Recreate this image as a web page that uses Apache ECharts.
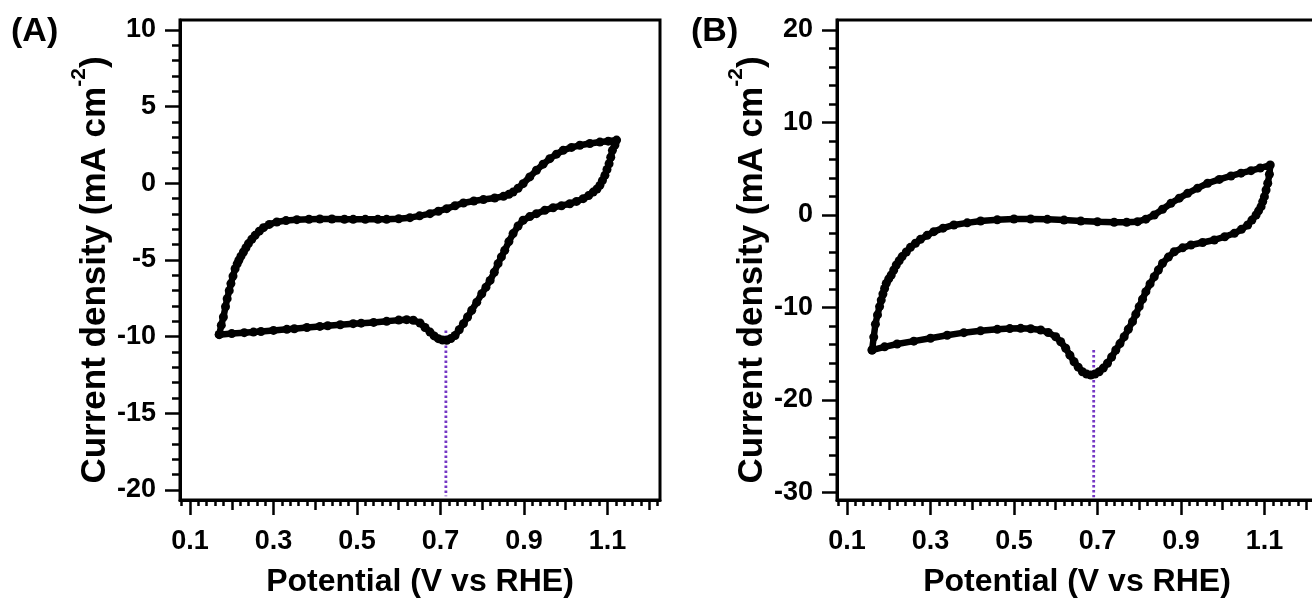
<!DOCTYPE html>
<html>
<head>
<meta charset="utf-8">
<script src="https://cdn.jsdelivr.net/npm/echarts@6/dist/echarts.min.js"></script>
<style>
html,body{margin:0;padding:0;background:#fff;}
#chart{width:1312px;height:599px;}
</style>
</head>
<body>
<div id="chart"></div>
<script>
// ---------- data ----------
// Panel A: cyclic voltammogram, [potential V vs RHE, current density mA cm^-2]
const cvA = [
[0.170,-9.85],[0.175,-9.25],[0.180,-8.72],[0.185,-8.05],[0.189,-7.52],[0.194,-7.0],[0.198,-6.54],
[0.203,-6.05],[0.208,-5.57],[0.213,-5.25],[0.217,-5.02],[0.222,-4.75],[0.228,-4.48],[0.234,-4.2],
[0.240,-3.93],[0.248,-3.65],[0.256,-3.39],[0.266,-3.12],[0.276,-2.89],[0.290,-2.68],[0.308,-2.52],
[0.330,-2.43],[0.356,-2.37],[0.385,-2.34],[0.411,-2.33],[0.440,-2.33],[0.470,-2.34],[0.491,-2.35],
[0.520,-2.35],[0.550,-2.35],[0.571,-2.35],[0.600,-2.31],[0.627,-2.24],[0.650,-2.12],[0.675,-1.98],
[0.695,-1.82],[0.715,-1.65],[0.735,-1.46],[0.755,-1.28],[0.780,-1.15],[0.803,-1.06],[0.830,-0.96],
[0.851,-0.85],[0.864,-0.72],[0.874,-0.57],[0.886,-0.32],[0.898,-0.02],[0.914,0.42],[0.930,0.85],
[0.946,1.25],[0.962,1.61],[0.978,1.9],[0.994,2.15],[1.014,2.34],[1.034,2.48],[1.058,2.6],
[1.082,2.69],[1.102,2.75],[1.122,2.82],
[1.118,2.5],[1.112,2.15],[1.108,1.7],[1.104,1.28],[1.099,0.9],[1.094,0.52],[1.088,0.18],
[1.082,-0.13],[1.075,-0.37],[1.066,-0.57],[1.055,-0.8],[1.042,-1.0],[1.026,-1.18],[1.010,-1.33],
[0.990,-1.46],[0.970,-1.59],[0.950,-1.76],[0.930,-1.98],[0.914,-2.17],[0.898,-2.41],[0.886,-2.78],
[0.874,-3.28],[0.864,-3.8],[0.854,-4.37],[0.846,-4.8],[0.838,-5.24],[0.829,-5.8],[0.819,-6.33],
[0.809,-6.77],[0.799,-7.2],[0.787,-7.75],[0.775,-8.28],[0.765,-8.72],[0.755,-9.15],[0.745,-9.55],
[0.735,-9.92],[0.725,-10.12],[0.715,-10.24],[0.705,-10.22],[0.695,-10.13],[0.685,-9.95],[0.675,-9.7],
[0.663,-9.4],[0.651,-9.11],[0.635,-8.93],[0.619,-8.89],[0.600,-8.92],[0.571,-9.0],[0.540,-9.07],
[0.510,-9.12],[0.491,-9.15],[0.460,-9.22],[0.430,-9.29],[0.411,-9.33],[0.380,-9.4],[0.350,-9.48],
[0.332,-9.52],[0.300,-9.59],[0.270,-9.66],[0.252,-9.7],[0.230,-9.74],[0.200,-9.8],[0.170,-9.87]
];
// Panel B
const cvB = [
[0.160,-14.6],[0.164,-13.2],[0.168,-11.8],[0.173,-10.8],[0.178,-9.9],[0.182,-9.2],[0.186,-8.54],
[0.190,-7.95],[0.194,-7.39],[0.200,-6.9],[0.206,-6.49],[0.212,-5.95],[0.218,-5.41],[0.225,-4.95],
[0.232,-4.5],[0.242,-4.0],[0.252,-3.5],[0.264,-3.05],[0.276,-2.63],[0.292,-2.2],[0.308,-1.8],
[0.330,-1.42],[0.356,-1.08],[0.388,-0.85],[0.420,-0.65],[0.460,-0.52],[0.500,-0.43],[0.540,-0.43],
[0.580,-0.47],[0.620,-0.55],[0.660,-0.65],[0.700,-0.73],[0.740,-0.79],[0.770,-0.79],[0.796,-0.72],
[0.816,-0.45],[0.836,0.0],[0.856,0.62],[0.876,1.26],[0.896,1.82],[0.916,2.34],[0.940,2.9],
[0.964,3.43],[0.992,3.85],[1.020,4.22],[1.044,4.52],[1.068,4.79],[1.090,5.08],[1.114,5.4],
[1.112,4.4],[1.108,3.43],[1.104,2.7],[1.100,1.98],[1.096,1.45],[1.092,0.9],[1.086,0.45],
[1.080,0.0],[1.070,-0.55],[1.060,-1.08],[1.045,-1.55],[1.028,-1.98],[1.005,-2.35],[0.980,-2.7],
[0.952,-2.97],[0.924,-3.24],[0.904,-3.55],[0.884,-3.97],[0.870,-4.55],[0.856,-5.22],[0.846,-5.95],
[0.836,-6.67],[0.826,-7.45],[0.816,-8.29],[0.808,-9.1],[0.800,-9.91],[0.792,-10.72],[0.784,-11.53],
[0.774,-12.35],[0.764,-13.16],[0.754,-13.9],[0.744,-14.6],[0.734,-15.35],[0.724,-16.03],[0.714,-16.55],
[0.704,-16.94],[0.694,-17.2],[0.684,-17.3],[0.674,-17.2],[0.664,-16.94],[0.654,-16.45],[0.644,-15.86],
[0.634,-15.15],[0.624,-14.41],[0.612,-13.7],[0.600,-13.16],[0.582,-12.7],[0.564,-12.43],[0.540,-12.3],
[0.516,-12.25],[0.490,-12.28],[0.460,-12.36],[0.420,-12.52],[0.380,-12.72],[0.340,-13.0],[0.300,-13.33],
[0.260,-13.64],[0.220,-13.95],[0.190,-14.25],[0.160,-14.6]
];
// peak-marker dotted lines
const peakA = [[0.713,-9.6],[0.713,-20.4]];
const peakB = [[0.691,-14.6],[0.691,-30.5]];

// tick labels
const xTicks = [0.1,0.3,0.5,0.7,0.9,1.1];
const xMidTicks = [0.2,0.4,0.6,0.8,1.0,1.2];
const yTicksA = [-20,-15,-10,-5,0,5,10];
const yTicksB = [-30,-20,-10,0,10,20];
const panelLabels = ['(A)','(B)'];
const xTitle = 'Potential (V vs RHE)';

// ---------- helpers ----------
const FONT = 'Liberation Sans, Arial, sans-serif';
const X_MIN = 0.076, X_MAX = 1.226;
function range(a, b, step) { const r = []; for (let i = 0; a + i*step <= b + 1e-9; i++) r.push(+(a + i*step).toFixed(4)); return r; }
const xMinor = range(0.08, 1.22, 0.02);

function xAxesFor(g) {
  const base = { type:'value', gridIndex:g, position:'bottom', min:X_MIN, max:X_MAX, splitLine:{show:false} };
  return [
    Object.assign({}, base, {
      axisLine:{show:true, onZero:false, lineStyle:{color:'#000', width:3}},
      axisTick:{show:true, inside:false, length:15, customValues:xTicks, lineStyle:{color:'#000', width:2.5}},
      axisLabel:{show:true, customValues:xTicks, formatter:v => v.toFixed(1), margin:28,
        color:'#000', fontSize:27, fontWeight:'bold', fontFamily:FONT},
      name:xTitle, nameLocation:'middle', nameGap:66,
      nameTextStyle:{color:'#000', fontSize:32, fontWeight:'bold', fontFamily:FONT}
    }),
    Object.assign({}, base, {
      axisLine:{show:false, onZero:false},
      axisTick:{show:true, inside:false, length:10, customValues:xMidTicks, lineStyle:{color:'#000', width:2.5}},
      axisLabel:{show:false}
    }),
    Object.assign({}, base, {
      axisLine:{show:false, onZero:false},
      axisTick:{show:true, inside:false, length:6, customValues:xMinor, lineStyle:{color:'#000', width:2.5}},
      axisLabel:{show:false}
    })
  ];
}
function yAxesFor(g, min, max, major, minor, gap) {
  const base = { type:'value', gridIndex:g, position:'left', min:min, max:max, splitLine:{show:false} };
  return [
    Object.assign({}, base, {
      axisLine:{show:true, onZero:false, lineStyle:{color:'#000', width:3}},
      axisTick:{show:true, inside:false, length:15, customValues:major, lineStyle:{color:'#000', width:2.5}},
      axisLabel:{show:true, customValues:major, margin:24, color:'#000', fontSize:27, fontWeight:'bold', fontFamily:FONT},
      name:'{t|Current density (mA cm}{s|-2}{t|)}', nameLocation:'middle', nameRotate:90, nameGap:gap,
      nameTextStyle:{color:'#000', fontFamily:FONT, padding:[0,20,0,0], rich:{
        t:{fontSize:35, fontWeight:'bold', fontFamily:FONT, color:'#000', lineHeight:44, verticalAlign:'bottom'},
        s:{fontSize:21, fontWeight:'bold', fontFamily:FONT, color:'#000', lineHeight:21, verticalAlign:'top'}
      }}
    }),
    Object.assign({}, base, {
      axisLine:{show:false, onZero:false},
      axisTick:{show:true, inside:false, length:8, customValues:minor, lineStyle:{color:'#000', width:2.5}},
      axisLabel:{show:false}
    })
  ];
}

const option = {
  animation:false,
  backgroundColor:'#fff',
  grid:[
    {left:180, top:20, width:480, height:480, containLabel:false, outerBoundsMode:'none',
      show:true, borderColor:'#000', borderWidth:3, backgroundColor:'transparent'},
    {left:837, top:20, width:480, height:480, containLabel:false, outerBoundsMode:'none',
      show:true, borderColor:'#000', borderWidth:3, backgroundColor:'transparent'}
  ],
  xAxis:[].concat(xAxesFor(0), xAxesFor(1)),
  yAxis:[].concat(
    yAxesFor(0, -20.65, 10.65, yTicksA, range(-20, 10, 1), 67),
    yAxesFor(1, -30.81, 21.08, yTicksB, range(-30, 20, 2), 62)
  ),
  graphic:[
    {type:'text', left:11, top:15, style:{text:panelLabels[0], fill:'#000', font:'bold 34px ' + FONT}},
    {type:'text', left:691, top:15, style:{text:panelLabels[1], fill:'#000', font:'bold 34px ' + FONT}}
  ],
  series:[
    {type:'line', xAxisIndex:0, yAxisIndex:0, data:peakA, symbol:'none', z:1,
      lineStyle:{color:'#7436c4', width:2.8, type:[2.5,2.5]}},
    {type:'line', xAxisIndex:3, yAxisIndex:2, data:peakB, symbol:'none', z:1,
      lineStyle:{color:'#7436c4', width:2.8, type:[2.5,2.5]}},
    {type:'line', xAxisIndex:0, yAxisIndex:0, data:cvA, z:3, symbol:'circle', symbolSize:9, showSymbol:true,
      itemStyle:{color:'#000'}, lineStyle:{color:'#000', width:6.5}},
    {type:'line', xAxisIndex:3, yAxisIndex:2, data:cvB, z:3, symbol:'circle', symbolSize:9, showSymbol:true,
      itemStyle:{color:'#000'}, lineStyle:{color:'#000', width:6.5}}
  ]
};
const chart = echarts.init(document.getElementById('chart'), null, {renderer:'canvas'});
chart.setOption(option);
</script>
</body>
</html>
